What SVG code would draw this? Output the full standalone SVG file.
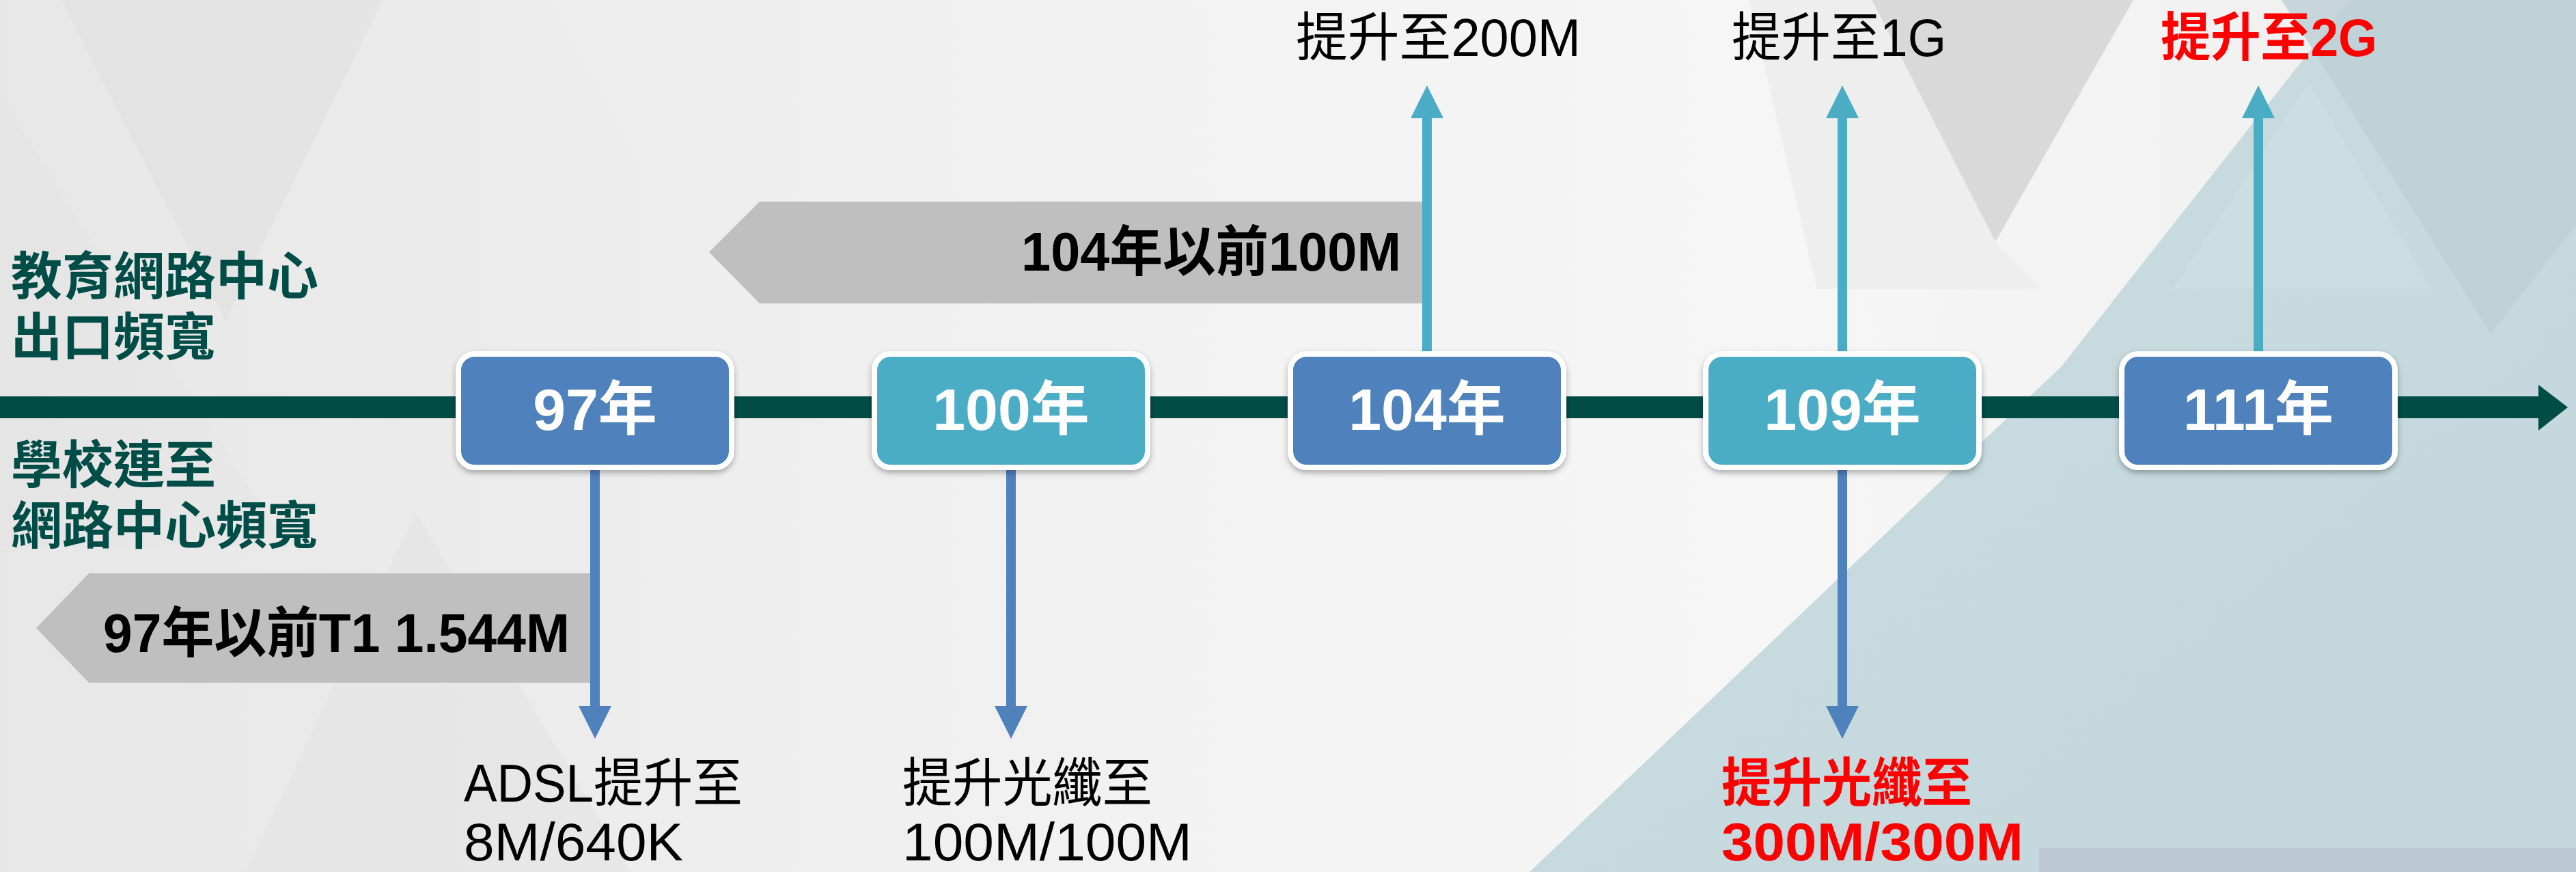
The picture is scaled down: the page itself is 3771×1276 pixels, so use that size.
<svg xmlns="http://www.w3.org/2000/svg" width="3771" height="1276" viewBox="0 0 3771 1276">
  <style>
    .t { font-family: "Liberation Sans", "Noto Sans CJK TC", sans-serif; }
    .box-label { font-size: 86px; font-weight: bold; fill: #ffffff; text-anchor: middle; }
    .side { font-size: 75px; font-weight: bold; fill: #004d47; }
    .prev { font-size: 80px; font-weight: bold; fill: #000000; }
    .lab { font-size: 77px; fill: #000000; }
    .red { fill: #ff0000; font-weight: bold; }
    .box-blue { fill: #4f81bd; stroke: #ffffff; stroke-width: 8; }
    .box-teal { fill: #4bacc6; stroke: #ffffff; stroke-width: 8; }
    .up { stroke: #4bacc6; stroke-width: 14; fill: none; }
    .down { stroke: #4f81bd; stroke-width: 14; fill: none; }
    .prevshape { fill: #bfbfbf; }
  </style>
  <defs>
    <linearGradient id="bg" x1="0" y1="0" x2="1" y2="0">
      <stop offset="0" stop-color="#e7e7e7"/>
      <stop offset="0.45" stop-color="#f2f2f2"/>
      <stop offset="0.7" stop-color="#f6f6f6"/>
      <stop offset="1" stop-color="#eeeeee"/>
    </linearGradient>
    <linearGradient id="bluebg" x1="0" y1="0" x2="1" y2="1">
      <stop offset="0" stop-color="#c9dce0"/>
      <stop offset="1" stop-color="#c4d7dc"/>
    </linearGradient>
    <filter id="shadow" x="-10%" y="-10%" width="120%" height="130%">
      <feDropShadow dx="0" dy="4" stdDeviation="4" flood-color="#000000" flood-opacity="0.3"/>
    </filter>
    <marker id="ahUp" markerUnits="userSpaceOnUse" viewBox="0 0 48 48" markerWidth="48" markerHeight="48" refX="2" refY="24" orient="auto">
      <path d="M0,0 L48,24 L0,48 Z" fill="#4bacc6"/>
    </marker>
    <marker id="ahDown" markerUnits="userSpaceOnUse" viewBox="0 0 48 48" markerWidth="48" markerHeight="48" refX="2" refY="24" orient="auto">
      <path d="M0,0 L48,24 L0,48 Z" fill="#4f81bd"/>
    </marker>
  </defs>

  <!-- background -->
  <g id="background">
    <rect x="0" y="0" width="3771" height="1276" fill="url(#bg)"/>
    <polygon points="90,0 560,0 330,470" fill="#dedede" opacity="0.5"/>
    <polygon points="0,140 420,800 0,800" fill="#e4e4e4" opacity="0.4"/>
    <polygon points="360,1276 609,749 924,1276" fill="#e2e2e2" opacity="0.5"/>
    <polygon points="800,0 1300,0 1050,420" fill="#efefef" opacity="0.6"/>
    <polygon points="2740,0 3123,0 2921,354" fill="#d9d9d9"/>
    <polygon points="2560,0 2740,0 2921,354 2990,423 2660,423" fill="#ebebeb" opacity="0.7"/>
    <polygon points="3440,0 3017,537 2239,1276 3771,1276 3771,0" fill="url(#bluebg)"/>
    <polygon points="3340,0 3771,0 3771,330 3646,488" fill="#bccfd5" opacity="0.8"/>
    <polygon points="3180,423 3560,423 3380,120" fill="#d2e2e5" opacity="0.5"/>
    <polygon points="2985,1241 3771,1241 3771,1276 2985,1276" fill="#bcc8d2"/>
  </g>

  <!-- timeline axis -->
  <g id="timeline">
    <rect x="0" y="580" width="3718" height="32" fill="#024c46"/>
    <polygon points="3716,563 3759,596 3716,630" fill="#024c46"/>
  </g>

  <!-- previous-bandwidth shapes -->
  <g id="prev97">
    <polygon class="prevshape" points="865,839 130,839 53,919 130,999 865,999"/>
    <text class="t prev" x="151" y="954" textLength="683" lengthAdjust="spacingAndGlyphs">97年以前T1 1.544M</text>
  </g>
  <g id="prev104">
    <polygon class="prevshape" points="2082,295 1112,295 1038,369 1112,444 2082,444"/>
    <text class="t prev" x="1495" y="396" textLength="556" lengthAdjust="spacingAndGlyphs">104年以前100M</text>
  </g>

  <!-- side labels -->
  <g id="label-outbound">
    <text class="t side" x="16" y="431">教育網路中心</text>
    <text class="t side" x="16" y="520">出口頻寬</text>
  </g>
  <g id="label-school">
    <text class="t side" x="16" y="707">學校連至</text>
    <text class="t side" x="16" y="796">網路中心頻寬</text>
  </g>

  <!-- connectors -->
  <g id="connectors">
    <line class="down" x1="871" y1="688" x2="871" y2="1035" marker-end="url(#ahDown)"/>
    <line class="down" x1="1480" y1="688" x2="1480" y2="1035" marker-end="url(#ahDown)"/>
    <line class="up" x1="2089" y1="514" x2="2089" y2="171" marker-end="url(#ahUp)"/>
    <line class="down" x1="2697" y1="688" x2="2697" y2="1035" marker-end="url(#ahDown)"/>
    <line class="up" x1="2697" y1="514" x2="2697" y2="171" marker-end="url(#ahUp)"/>
    <line class="up" x1="3306" y1="514" x2="3306" y2="171" marker-end="url(#ahUp)"/>
  </g>

  <!-- year nodes -->
  <g id="node-97" filter="url(#shadow)">
    <rect class="box-blue" x="671" y="518" width="400" height="166" rx="24"/>
    <text class="t box-label" x="871" y="629">97年</text>
  </g>
  <g id="node-100" filter="url(#shadow)">
    <rect class="box-teal" x="1280" y="518" width="400" height="166" rx="24"/>
    <text class="t box-label" x="1480" y="629">100年</text>
  </g>
  <g id="node-104" filter="url(#shadow)">
    <rect class="box-blue" x="1889" y="518" width="400" height="166" rx="24"/>
    <text class="t box-label" x="2089" y="629">104年</text>
  </g>
  <g id="node-109" filter="url(#shadow)">
    <rect class="box-teal" x="2497" y="518" width="400" height="166" rx="24"/>
    <text class="t box-label" x="2697" y="629">109年</text>
  </g>
  <g id="node-111" filter="url(#shadow)">
    <rect class="box-blue" x="3106" y="518" width="400" height="166" rx="24"/>
    <text class="t box-label" x="3306" y="629">111年</text>
  </g>

  <!-- upgrade labels -->
  <g id="note-97">
    <text class="t lab" x="679" y="1173" textLength="408" lengthAdjust="spacingAndGlyphs">ADSL提升至</text>
    <text class="t lab" x="679" y="1259" textLength="321" lengthAdjust="spacingAndGlyphs">8M/640K</text>
  </g>
  <g id="note-100">
    <text class="t lab" x="1321" y="1173" textLength="366" lengthAdjust="spacingAndGlyphs">提升光纖至</text>
    <text class="t lab" x="1321" y="1259" textLength="424" lengthAdjust="spacingAndGlyphs">100M/100M</text>
  </g>
  <g id="note-104">
    <text class="t lab" x="1897" y="82" textLength="417" lengthAdjust="spacingAndGlyphs">提升至200M</text>
  </g>
  <g id="note-109-up">
    <text class="t lab" x="2535" y="82" textLength="314" lengthAdjust="spacingAndGlyphs">提升至1G</text>
  </g>
  <g id="note-109-down">
    <text class="t lab red" x="2520" y="1173" textLength="367" lengthAdjust="spacingAndGlyphs">提升光纖至</text>
    <text class="t lab red" x="2520" y="1259" textLength="442" lengthAdjust="spacingAndGlyphs">300M/300M</text>
  </g>
  <g id="note-111">
    <text class="t lab red" x="3163" y="82" textLength="317" lengthAdjust="spacingAndGlyphs">提升至2G</text>
  </g>
</svg>
